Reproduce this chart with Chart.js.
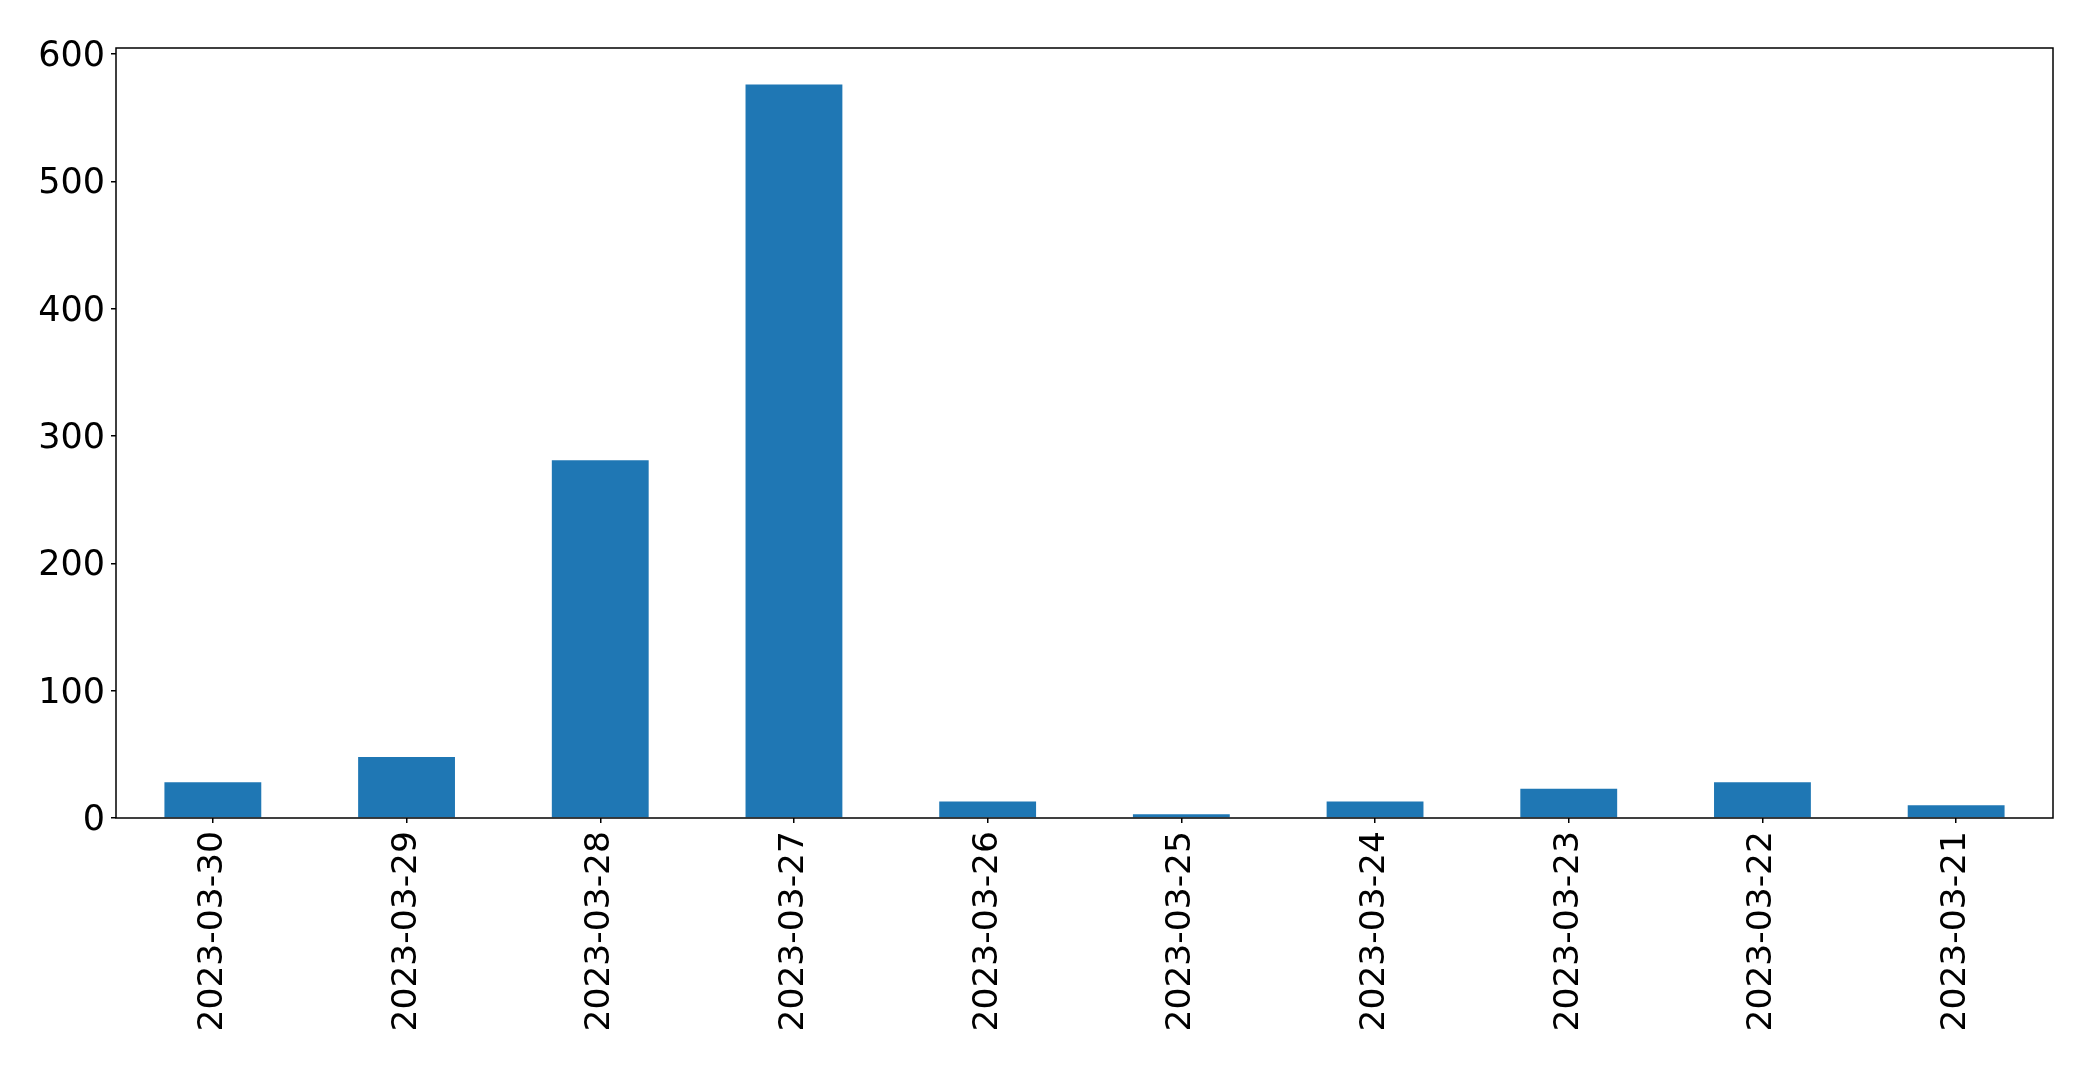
<!DOCTYPE html>
<html>
<head>
<meta charset="utf-8">
<script src="https://cdn.jsdelivr.net/npm/chart.js@4/dist/chart.umd.min.js"></script>
<style>
    html, body { margin: 0; padding: 0; background: #fff; }
    #wrap { width: 2093px; height: 1070px; }
</style>
</head>
<body>
<div id="wrap"><canvas id="chart"></canvas></div>
<script>
const dates = ['2023-03-30', '2023-03-29', '2023-03-28', '2023-03-27', '2023-03-26',
    '2023-03-25', '2023-03-24', '2023-03-23', '2023-03-22', '2023-03-21'];
const counts = [28, 48, 281, 576, 13, 3, 13, 23, 28, 10];
const yTicks = [0, 100, 200, 300, 400, 500, 600];

const frame = {
    id: 'frame',
    afterDraw(chart) {
        const { ctx, chartArea: a } = chart;
        ctx.save();
        ctx.strokeStyle = '#000';
        ctx.lineWidth = 1.5;
        ctx.strokeRect(a.left, a.top, a.right - a.left, a.bottom - a.top);
        ctx.restore();
    },
};

new Chart(document.getElementById('chart').getContext('2d'), {
    type: 'bar',
    data: {
        labels: dates,
        datasets: [{
            data: counts,
            backgroundColor: '#1f77b4',
            barPercentage: 0.5,
            categoryPercentage: 1,
        }],
    },
    options: {
        responsive: true,
        maintainAspectRatio: false,
        animation: false,
        layout: { padding: { top: 48, right: 40, left: 0, bottom: 0 } },
        plugins: { legend: { display: false }, tooltip: { enabled: false } },
        scales: {
            x: {
                afterFit(axis) {
                    axis.height = 252;
                },
                border: { display: false },
                grid: { offset: false, drawOnChartArea: false, drawTicks: true, tickLength: 5, color: '#000', lineWidth: 1.5 },
                ticks: {
                    color: '#000',
                    font: { family: 'DejaVu Sans', size: 34.5 },
                    minRotation: 90,
                    maxRotation: 90,
                    autoSkip: false,
                    padding: 8,
                },
            },
            y: {
                min: 0,
                max: 604.7,
                afterFit(axis) {
                    axis.width = 116;
                },
                afterBuildTicks(axis) {
                    axis.ticks = yTicks.map((value) => ({ value }));
                },
                border: { display: false },
                grid: { drawOnChartArea: false, drawTicks: true, tickLength: 5, color: '#000', lineWidth: 1.5 },
                ticks: {
                    color: '#000',
                    font: { family: 'DejaVu Sans', size: 35 },
                    padding: 6,
                    labelOffset: 3,
                },
            },
        },
    },
    plugins: [frame],
});
</script>
</body>
</html>
